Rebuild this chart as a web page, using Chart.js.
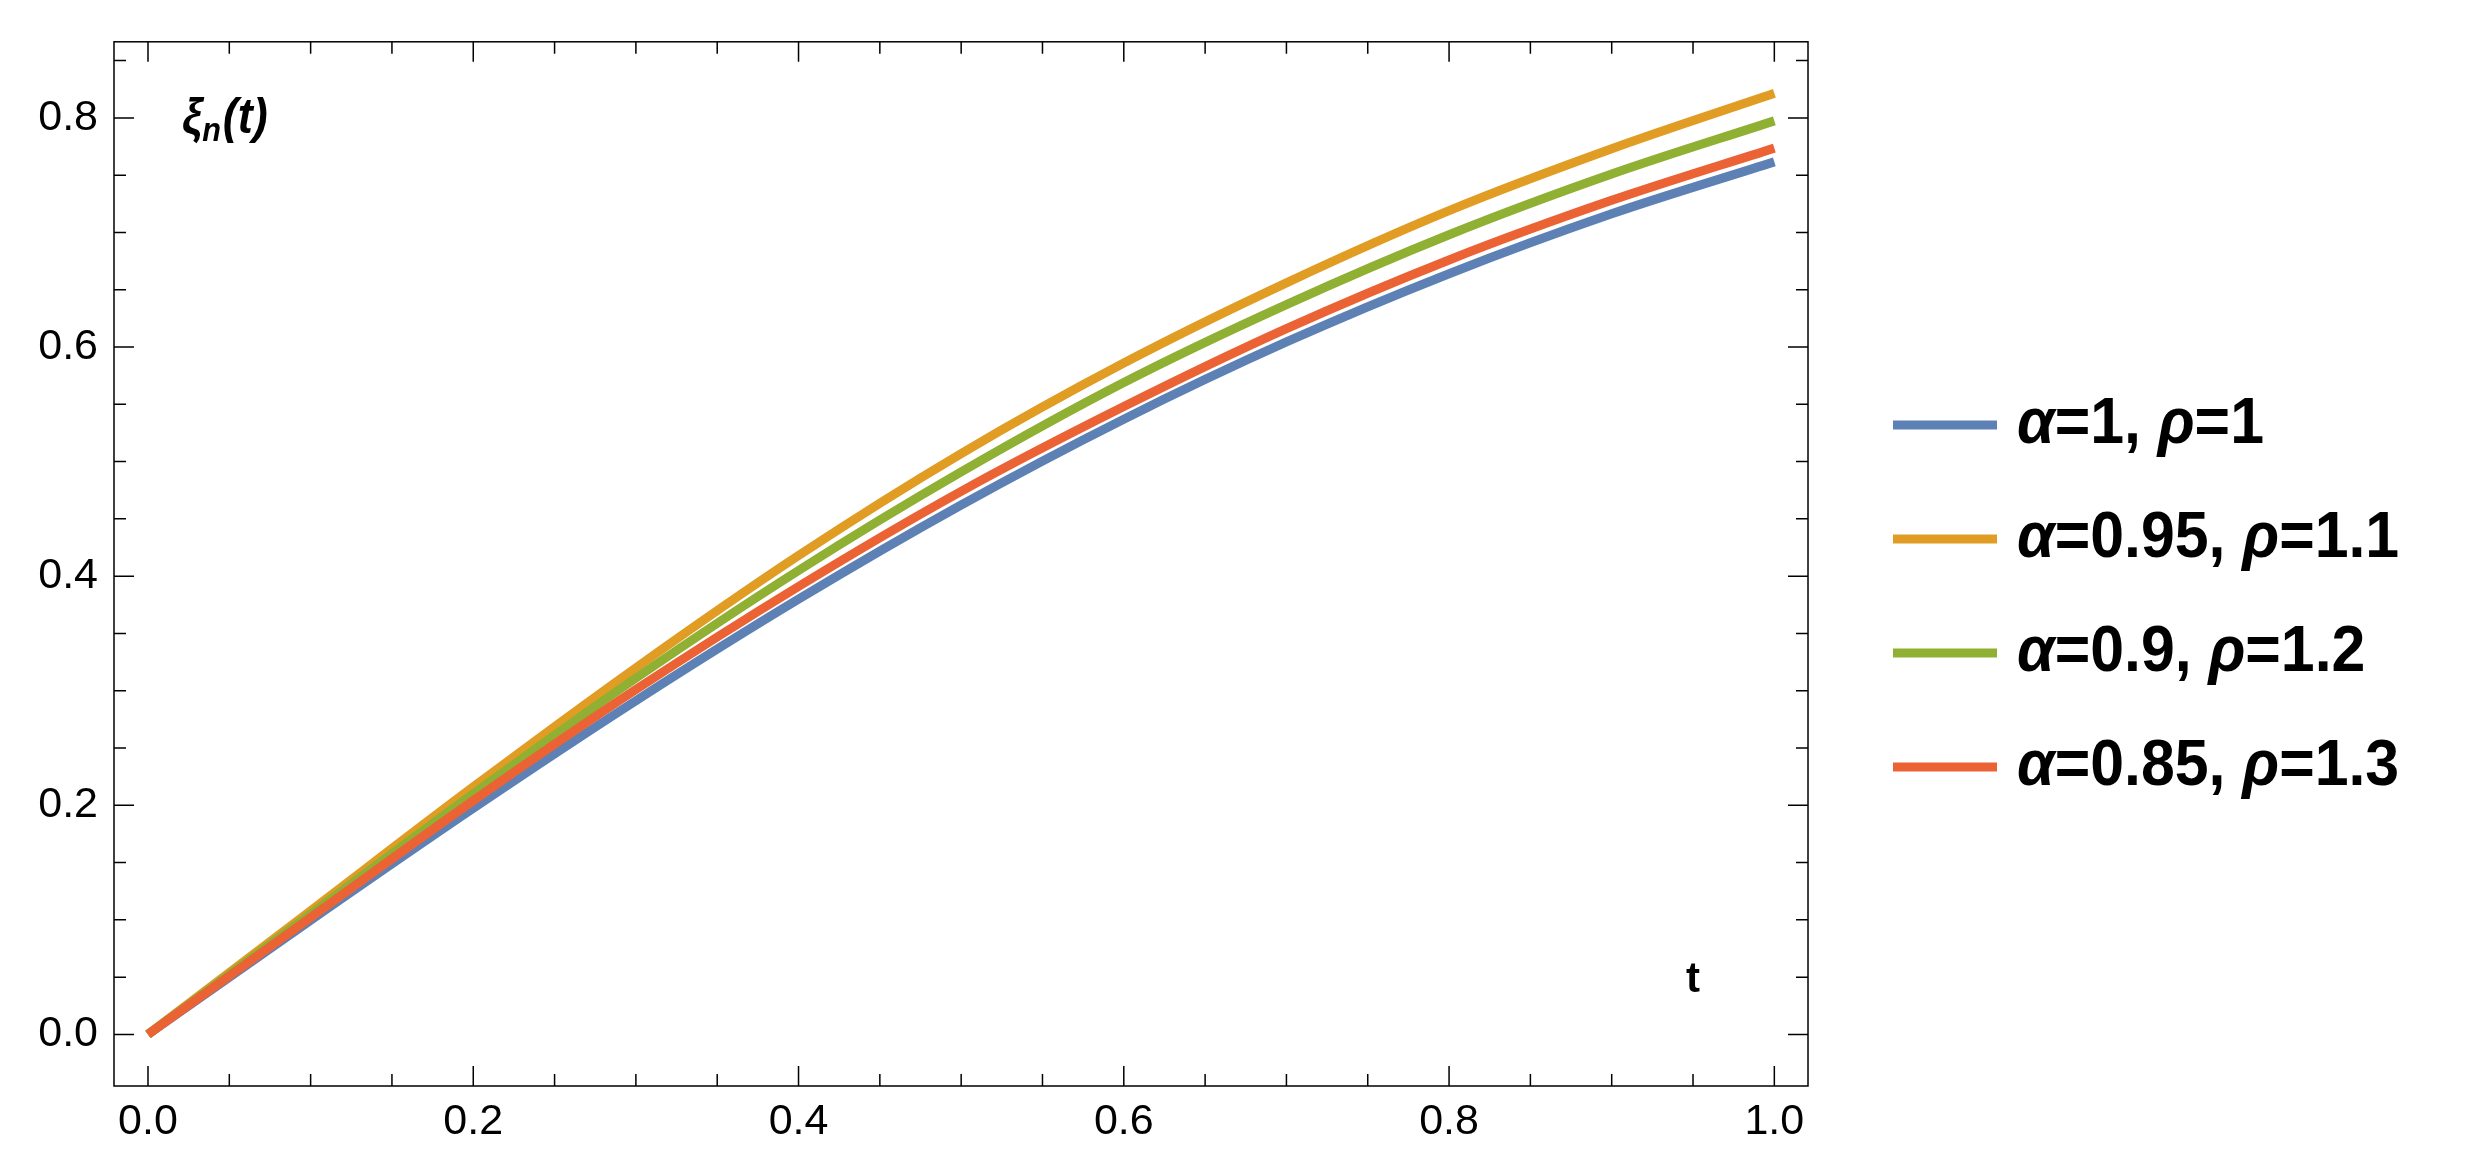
<!DOCTYPE html>
<html>
<head>
<meta charset="utf-8">
<script src="https://cdn.jsdelivr.net/npm/chart.js@4/dist/chart.umd.min.js"></script>
<style>
html,body{margin:0;padding:0;background:#fff;}
canvas{display:block;}
</style>
</head>
<body>
<canvas id="c" width="2465" height="1166"></canvas>
<script>
// ---- data ----
const tValues      = [0, 0.1, 0.2, 0.3, 0.4, 0.5, 0.6, 0.7, 0.8, 0.9, 1.0];
const seriesBlue   = [0, 0.0997, 0.1974, 0.2913, 0.3799, 0.4621, 0.5370, 0.6044, 0.6640, 0.7163, 0.7616];
const seriesOrange = [0, 0.1080, 0.2160, 0.3200, 0.4180, 0.5070, 0.5860, 0.6560, 0.7190, 0.7730, 0.8214];
const seriesGreen  = [0, 0.1050, 0.2100, 0.3110, 0.4050, 0.4910, 0.5690, 0.6370, 0.6980, 0.7510, 0.7974];
const seriesRed    = [0, 0.1020, 0.2040, 0.3010, 0.3910, 0.4740, 0.5480, 0.6160, 0.6760, 0.7280, 0.7736];
const seriesLabels = ['α=1, ρ=1', 'α=0.95, ρ=1.1', 'α=0.9, ρ=1.2', 'α=0.85, ρ=1.3'];
const seriesColors = ['#5E81B5', '#E19C24', '#8FB032', '#EB6235'];
const xMajorTicks  = [0.0, 0.2, 0.4, 0.6, 0.8, 1.0];
const yMajorTicks  = [0.0, 0.2, 0.4, 0.6, 0.8];
const minorStep    = 0.05;
const xRange = [-0.0209, 1.0207];
const yRange = [-0.045, 0.8664];

const allSeries = [seriesBlue, seriesOrange, seriesGreen, seriesRed];
const datasets = allSeries.map((vals, i) => ({
  label: seriesLabels[i],
  data: tValues.map((t, j) => ({x: t, y: vals[j]})),
  borderColor: seriesColors[i],
  backgroundColor: seriesColors[i],
  borderWidth: 9,
  borderCapStyle: 'butt',
  pointRadius: 0,
  cubicInterpolationMode: 'monotone',
  order: allSeries.length - 1 - i,
  fill: false
}));

const FONT = '"Liberation Sans", Arial, sans-serif';

const frameTicks = {
  id: 'frameTicks',
  afterDraw(chart) {
    const {ctx, chartArea: a, scales: {x, y}} = chart;
    ctx.save();
    ctx.strokeStyle = '#000';
    ctx.lineWidth = 1.5;
    ctx.strokeRect(a.left, a.top, a.right - a.left, a.bottom - a.top);
    const isMajor = (v, majors) => majors.some(m => Math.abs(m - v) < 1e-6);
    ctx.beginPath();
    for (let k = Math.ceil(xRange[0] / minorStep); k * minorStep <= xRange[1] + 1e-9; k++) {
      const v = k * minorStep;
      const px = x.getPixelForValue(v);
      const len = isMajor(v, xMajorTicks) ? 20 : 12;
      ctx.moveTo(px, a.bottom); ctx.lineTo(px, a.bottom - len);
      ctx.moveTo(px, a.top); ctx.lineTo(px, a.top + len);
    }
    for (let k = Math.ceil(yRange[0] / minorStep); k * minorStep <= yRange[1] + 1e-9; k++) {
      const v = k * minorStep;
      const py = y.getPixelForValue(v);
      const len = isMajor(v, yMajorTicks) ? 20 : 12;
      ctx.moveTo(a.left, py); ctx.lineTo(a.left + len, py);
      ctx.moveTo(a.right, py); ctx.lineTo(a.right - len, py);
    }
    ctx.stroke();

    // axis labels inside the frame
    ctx.fillStyle = '#000';
    ctx.textBaseline = 'alphabetic';
    ctx.textAlign = 'left';
    ctx.save();
    ctx.translate(a.left + 68, 133);
    ctx.scale(0.9, 1);
    let cx = 0;
    ctx.font = 'italic bold 50px ' + FONT;
    ctx.fillText('ξ', cx, 0); cx += ctx.measureText('ξ').width;
    ctx.font = 'italic bold 34px ' + FONT;
    ctx.fillText('n', cx, 8); cx += ctx.measureText('n').width + 2;
    ctx.font = 'italic bold 50px ' + FONT;
    ctx.fillText('(t)', cx, 0);
    ctx.restore();

    ctx.font = 'bold 42px ' + FONT;
    ctx.fillText('t', 1686, 992);

    // legend
    const lx0 = 1893, lx1 = 1997, tx = 2017;
    chart.data.datasets.forEach((ds, i) => {
      const yc = 425 + 114 * i;
      ctx.strokeStyle = ds.borderColor;
      ctx.lineWidth = 9;
      ctx.lineCap = 'butt';
      ctx.beginPath(); ctx.moveTo(lx0, yc); ctx.lineTo(lx1, yc); ctx.stroke();
      ctx.save();
      ctx.translate(tx, yc + 18);
      ctx.scale(0.95, 1);
      let px = 0;
      for (const ch of ds.label) {
        const greek = /[α-ωΑ-Ω]/.test(ch);
        ctx.font = (greek ? 'italic bold ' : 'bold ') + '64px ' + FONT;
        ctx.fillStyle = '#000';
        ctx.fillText(ch, px, 0);
        px += ctx.measureText(ch).width;
      }
      ctx.restore();
    });
    ctx.restore();
  }
};

new Chart(document.getElementById('c'), {
  type: 'line',
  data: { datasets },
  options: {
    responsive: false,
    animation: false,
    devicePixelRatio: 1,
    layout: { padding: { top: 39, right: 657, left: 0, bottom: 0 } },
    plugins: { legend: { display: false }, tooltip: { enabled: false } },
    scales: {
      x: {
        type: 'linear',
        min: xRange[0], max: xRange[1],
        grid: { display: false, drawTicks: false },
        border: { display: false },
        afterBuildTicks: s => { s.ticks = xMajorTicks.map(v => ({value: v})); },
        afterFit: s => { s.height = 80; },
        ticks: {
          padding: 10,
          color: '#000',
          font: { family: FONT, size: 43 },
          maxRotation: 0,
          callback: v => Number(v).toFixed(1)
        }
      },
      y: {
        type: 'linear',
        min: yRange[0], max: yRange[1],
        grid: { display: false, drawTicks: false },
        border: { display: false },
        afterBuildTicks: s => { s.ticks = yMajorTicks.map(v => ({value: v})); },
        afterFit: s => { s.width = 114; },
        ticks: {
          padding: 16,
          color: '#000',
          font: { family: FONT, size: 43 },
          callback: v => Number(v).toFixed(1)
        }
      }
    }
  },
  plugins: [frameTicks]
});
</script>
</body>
</html>
